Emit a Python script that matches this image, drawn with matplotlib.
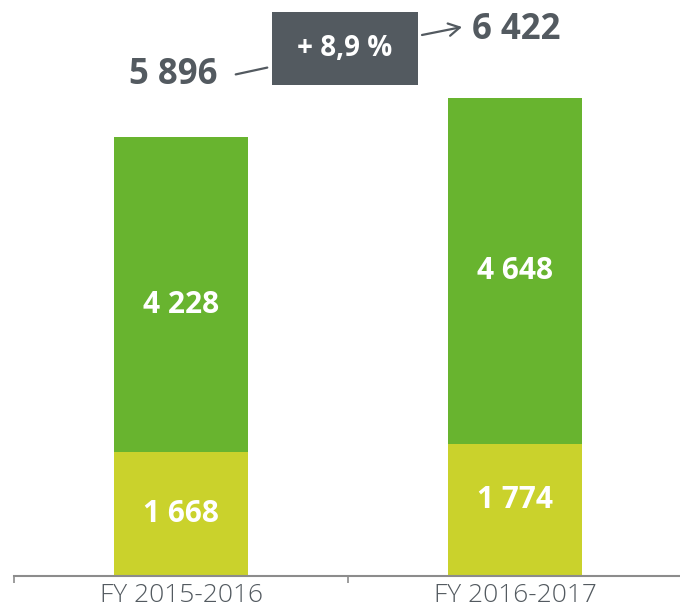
import matplotlib
matplotlib.use("Agg")
import matplotlib.pyplot as plt
from matplotlib.patches import Rectangle

# data
years = ["FY 2015-2016", "FY 2016-2017"]
base = [1668, 1774]
top = [4228, 4648]
totals = [5896, 6422]
growth = "+ 8,9 %"

plt.rcParams['font.family'] = ['Open Sans', 'DejaVu Sans']

c_low = "#cad22c"
c_high = "#68b42f"
c_grey = "#535a60"

W, H = 680, 608
fig = plt.figure(figsize=(W / 100, H / 100), dpi=100)
ax = fig.add_axes([14 / W, 32 / H, 668 / W, 576 / H])

x = range(len(years))
ax.bar(x, base, width=0.4, color=c_low)
ax.bar(x, top, width=0.4, bottom=base, color=c_high)

def fmt(v):
    return f"{v:,}".replace(",", " ")

# small vertical nudges (points) so labels sit where the original puts them
base_dy = [0, 7]
top_dy = [-8, 0]
for i in x:
    ax.annotate(fmt(base[i]), (i, base[i] / 2), xytext=(0, base_dy[i]), textcoords="offset points",
                ha="center", va="center", color="white", fontsize=21.5, fontweight="bold")
    ax.annotate(fmt(top[i]), (i, base[i] + top[i] / 2), xytext=(0, top_dy[i]), textcoords="offset points",
                ha="center", va="center", color="white", fontsize=21.5, fontweight="bold")

ax.set_xlim(-0.5, 1.5)
ax.set_ylim(0, 7732)
for s in ["top", "right", "left"]:
    ax.spines[s].set_visible(False)
ax.spines["bottom"].set_color("#8c8c8c")
ax.spines["bottom"].set_linewidth(1.5)
ax.set_yticks([])
ax.set_xticks(list(x))
ax.set_xticklabels(years, fontsize=19, color=c_grey, fontweight="light")
ax.tick_params(axis="x", which="major", length=0, pad=5)
ax.set_xticks([-0.5, 0.5, 1.5], minor=True)
ax.tick_params(axis="x", which="minor", length=5, width=1.2, color="#8c8c8c")

# growth annotation (figure pixels, origin bottom-left)
fig.text(173 / W, (H - 75) / H, fmt(totals[0]), ha="center", va="center",
         fontsize=25, fontweight="bold", color=c_grey)
fig.text(516 / W, (H - 30) / H, fmt(totals[1]), ha="center", va="center",
         fontsize=25, fontweight="bold", color=c_grey)

box = Rectangle((272 / W, (H - 85) / H), 146 / W, 73 / H, transform=fig.transFigure,
                facecolor=c_grey, edgecolor="none")
fig.add_artist(box)
fig.text(345 / W, (H - 48) / H, growth, ha="center", va="center",
         fontsize=20, fontweight="bold", color="white")

ax.annotate("", xy=(270, H - 67), xytext=(233, H - 75), xycoords="figure pixels",
            textcoords="figure pixels",
            arrowprops=dict(arrowstyle="-", color=c_grey, lw=1.6))
ax.annotate("", xy=(462, H - 27), xytext=(422, H - 35), xycoords="figure pixels",
            textcoords="figure pixels",
            arrowprops=dict(arrowstyle="->,head_length=0.8,head_width=0.45", color=c_grey, lw=1.6,
                            shrinkA=0, shrinkB=0))

fig.savefig("out.png", dpi=100)
